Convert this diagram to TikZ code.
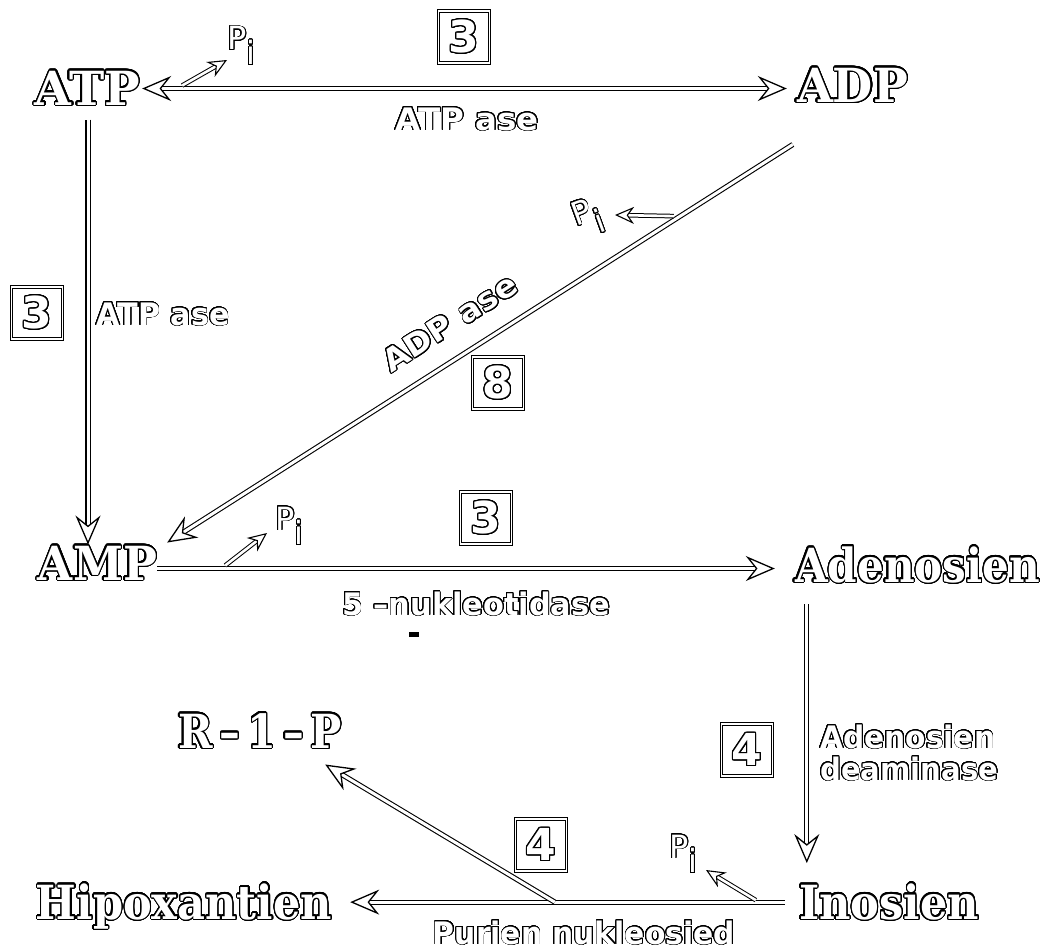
\documentclass[tikz,border=0pt]{standalone}
\usepackage{fontspec}
\usepackage{graphicx}
\usepackage{contour}
\usetikzlibrary{arrows.meta,calc}
\newfontfamily\namefont{DejaVu Serif}
\newfontfamily\labfont{DejaVu Sans}
\contournumber{32}
% outlined compound name, stretched to a given width
\newcommand\nm[2]{\resizebox{#1}{\height}{\namefont\bfseries\fontsize{47}{47}\selectfont\contourlength{1.3pt}\color{white}\contour{black}{#2}}}
% outlined enzyme label, stretched to a given width
\newcommand\lb[2]{\resizebox{#1}{\height}{\labfont\bfseries\fontsize{31}{31}\selectfont\contourlength{0.9pt}\color{white}\contour{black}{#2}}}
% inorganic phosphate
\newcommand\pisym{\labfont\fontsize{32}{32}\selectfont\contourlength{0.9pt}\color{white}\contour{black}{P}\raisebox{-0.46em}{\contour{black}{i}}}
% digit in a framed box
\newcommand\dg[1]{\labfont\bfseries\fontsize{44}{44}\selectfont\contourlength{1pt}\color{white}\contour{black}{#1}}
\tikzset{
  cmpd/.style={anchor=base, inner sep=0pt},
  enz/.style={anchor=base, inner sep=0pt},
  numbox/.style={draw, double, double distance=1.8pt, line width=1pt,
    minimum width=51pt, minimum height=52pt, inner sep=0pt},
  big/.style={double distance=3pt, line width=1.1pt, -{Stealth[length=29pt, width=25pt, inset=10pt, fill=white, line width=1.3pt]}},
  bigboth/.style={double distance=3pt, line width=1.1pt,
    {Stealth[length=29pt, width=25pt, inset=10pt, fill=white, line width=1.3pt]}-{Stealth[length=29pt, width=25pt, inset=10pt, fill=white, line width=1.3pt]}},
  small/.style={double distance=2.6pt, line width=1pt, -{Stealth[length=19pt, width=17pt, inset=6pt, fill=white, line width=1.1pt]}},
}
\begin{document}
\begin{tikzpicture}[x=1pt, y=-1pt]
\useasboundingbox[fill=white] (0,0) rectangle (1049,950);

% compounds
\node[cmpd] (ATP)  at (87.5,105) {\nm{105pt}{ATP}};
\node[cmpd] (ADP)  at (852.5,102) {\nm{111pt}{ADP}};
\node[cmpd] (AMP)  at (97.5,580) {\nm{119pt}{AMP}};
\node[cmpd] (Aden) at (917.5,582) {\nm{245pt}{Adenosien}};
\node[cmpd] (Ino)  at (889,919) {\nm{180pt}{Inosien}};
\node[cmpd] (Hip)  at (184,919) {\nm{296pt}{Hipoxantien}};
\node[cmpd] (R1P)  at (260,748) {\nm{164pt}{R\,–\,1\,–\,P}};

% enzymes
\node[enz] (e1) at (467,130) {\lb{143pt}{ATP ase}};
\node[enz] (e2) at (163,325) {\lb{133pt}{ATP ase}};
\node[inner sep=0pt, rotate=32.6] (e3) at (450,323) {\lb{153pt}{ADP ase}};
\node[enz] (e4) at (476,615) {\lb{268pt}{5 –nukleotidase}};
\node[enz, anchor=base west] (e5) at (820,748) {\lb{175pt}{Adenosien}};
\node[enz, anchor=base west] (e6) at (820,780) {\lb{178pt}{deaminase}};
\node[enz] (e7) at (584,944) {\lb{302pt}{Purien nukleosied}};

% numbered boxes
\node[numbox] (b1) at (464,37)  {\dg{3}};
\node[numbox] (b2) at (37,313)  {\dg{3}};
\node[numbox] (b3) at (498,383) {\dg{8}};
\node[numbox] (b4) at (486,518) {\dg{3}};
\node[numbox] (b5) at (747,750) {\dg{4}};
\node[numbox] (b6) at (541,845) {\dg{4}};

% phosphate labels
\node[anchor=base west, inner sep=0pt] (pia) at (227,50) {\pisym};
\node[inner sep=0pt, rotate=20] (pib) at (588,218) {\pisym};
\node[anchor=base west, inner sep=0pt] (pic) at (275,530) {\pisym};
\node[anchor=base west, inner sep=0pt] (pid) at (669,858) {\pisym};

% main reactions
\draw[bigboth] ($(ATP.east)+(2,0)$) -- ($(ATP.east -| ADP.west)+(-10,0)$);
\draw[big] ($(ATP.south)+(0.5,13)$) -- ($(ATP.south |- AMP.north)+(0.5,-1)$);
\coordinate (dA) at ($(ADP.south west)+(-4,41)$);
\coordinate (dB) at ($(AMP.north east)+(10,-3)$);
\draw[big] (dA) -- (dB);
\draw[big] ($(AMP.east)+(0,5)$) -- ($(AMP.east -| Aden.west)+(-20,5)$);
\draw[big] ($(Aden.south west)+(12,20)$) -- ($(Aden.south west |- Ino.north)+(12,-20)$);
\draw[big] ($(Ino.west)+(-14,0)$) -- ($(Ino.west -| Hip.east)+(18,0)$);
\coordinate (split) at ($(Ino.west)+(-244,0)$);
\draw[big] (split) -- ($(R1P.south east)+(-17,15)$);

% phosphate release
\draw[small] ($(ATP.east)+(42,-3)$) -- ($(pia.base west)+(0,10)$);
\draw[small] ($(dA)!0.19!(dB)+(0,-4)$) -- ($(pib)+(27,-3)$);
\draw[small] ($(AMP.east)+(68,2)$) -- ($(pic.base west)+(-8,3)$);
\draw[small] ($(Ino.west)+(-43,-2)$) -- ($(pid.base west)+(37,12)$);

% stray mark under the nucleotidase label
\fill (409,632) rectangle (419,637);
\end{tikzpicture}
\end{document}
